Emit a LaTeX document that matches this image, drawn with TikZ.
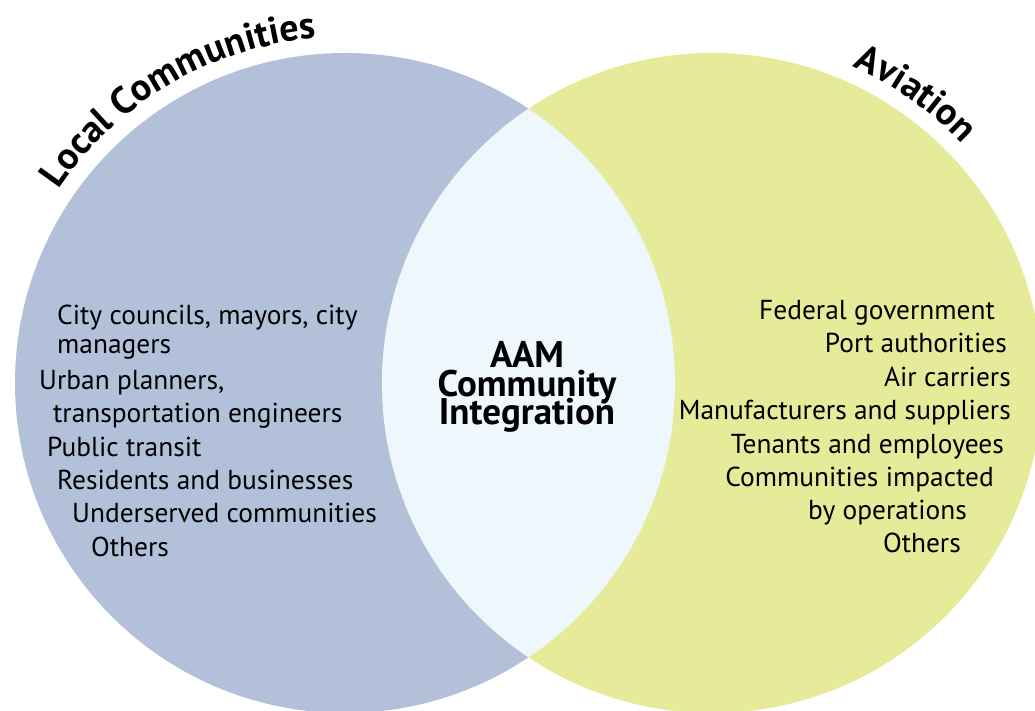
\documentclass[tikz,border=0pt]{standalone}
\usepackage{fontspec}
\setmainfont{PT Sans}
\usetikzlibrary{decorations.text}

\definecolor{localblue}{RGB}{178,193,217}
\definecolor{aviyellow}{RGB}{229,235,153}
\definecolor{lensblue}{RGB}{238,247,251}

\begin{document}
\begin{tikzpicture}[
    x=1pt,
    y=1pt,
    member/.style={
        inner sep=0pt,
        font=\fontsize{27.4}{27.4}\selectfont
    },
    leftitem/.style={
        member,
        anchor=base west
    },
    rightitem/.style={
        member,
        anchor=base east
    },
    core/.style={
        inner sep=0pt,
        anchor=base,
        font=\bfseries\fontsize{37}{37}\selectfont
    }
    ]
    \useasboundingbox (0,0) rectangle (1035,711);
    \coordinate (LC) at (345,328);
    \coordinate (AV) at (712,328);

    \fill[localblue] (LC) circle (330);
    \fill[aviyellow] (AV) circle (330);
    \begin{scope}
        \clip (LC) circle (330);
        \fill[lensblue] (AV) circle (330);
    \end{scope}

    % titles on the rims
    \path[decorate,decoration={text along path,text align=left,
        text={|\bfseries\fontsize{38}{38}\selectfont|Local Communities}}]
        (LC) ++(146:346) arc[start angle=146,end angle=70,radius=346];
    \path[decorate,decoration={text along path,text align=left,
        text={|\bfseries\fontsize{38}{38}\selectfont|Aviation}}]
        (AV) ++(66:346) arc[start angle=66,end angle=20,radius=346];

    \node[core] (AAM)   at (527,343) {AAM};
    \node[core] (COMM)  at (527,314) {Community};
    \node[core] (INTEG) at (527,286) {Integration};

    \node[leftitem] (LOC1) at (57,386) {City councils, mayors, city};
    \node[leftitem] (LOC2) at (57,357) {managers};
    \node[leftitem] (LOC3) at (39,321) {Urban planners,};
    \node[leftitem] (LOC4) at (53,288) {transportation engineers};
    \node[leftitem] (LOC5) at (47,254) {Public transit};
    \node[leftitem] (LOC6) at (57,221) {Residents and businesses};
    \node[leftitem] (LOC7) at (72,188) {Underserved communities};
    \node[leftitem] (LOC8) at (91,154) {Others};

    \node[rightitem] (AVI1) at (995,391) {Federal government};
    \node[rightitem] (AVI2) at (1007,358) {Port authorities};
    \node[rightitem] (AVI3) at (1011,324) {Air carriers};
    \node[rightitem] (AVI4) at (1011,291) {Manufacturers and suppliers};
    \node[rightitem] (AVI5) at (1004,257) {Tenants and employees};
    \node[rightitem] (AVI6) at (994,224) {Communities impacted};
    \node[rightitem] (AVI7) at (967,191) {by operations};
    \node[rightitem] (AVI8) at (961,158) {Others};
\end{tikzpicture}
\end{document}
